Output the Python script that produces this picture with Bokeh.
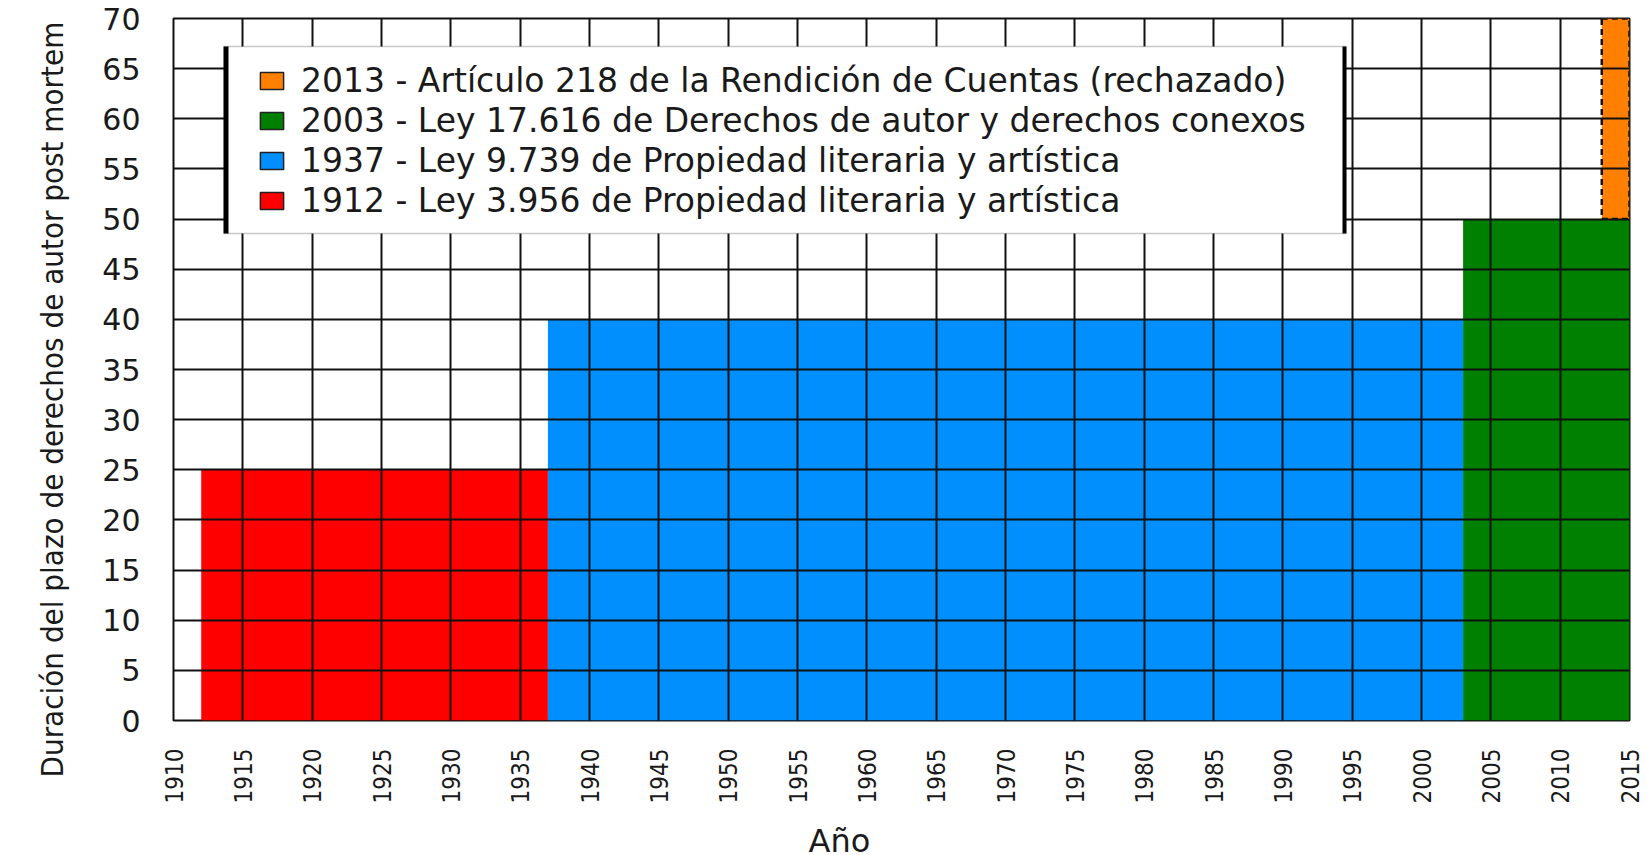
from math import pi
from bokeh.plotting import figure
from bokeh.models import FixedTicker, Legend, LegendItem, BoxAnnotation, Title
from bokeh.embed import file_html
from bokeh.resources import INLINE

x_start, x_end = 1910, 2015
y_start, y_end = 0, 70
x_ticks = list(range(1910, 2016, 5))
y_ticks = list(range(0, 71, 5))

x_title = "Año"
y_title = "Duración del plazo de derechos de autor post mortem"
laws = ["1912 - Ley 3.956 de Propiedad literaria y artística",
        "1937 - Ley 9.739 de Propiedad literaria y artística",
        "2003 - Ley 17.616 de Derechos de autor y derechos conexos",
        "2013 - Artículo 218 de la Rendición de Cuentas (rechazado)"]
starts = [1912, 1937, 2003, 2013]
ends = [1937, 2003, 2015, 2015]
bottoms = [0, 0, 0, 50]
terms = [25, 40, 50, 70]
colors = ["#ff0000", "#008ffd", "#008000", "#ff8000"]

INK = "#111111"
FONT = "DejaVu Sans"
NARROW = "DejaVu Sans Condensed"
FRAME_LEFT, FRAME_BOTTOM = 173, 720

p = figure(width=1647, height=855, frame_width=1456, frame_height=702,
           x_range=(x_start, x_end), y_range=(y_start, y_end),
           output_backend="svg", toolbar_location=None,
           min_border_left=173, min_border_top=18, min_border_right=18, min_border_bottom=135,
           background_fill_color="white", border_fill_color="white",
           outline_line_color=INK, outline_line_width=2)

for i in [3, 2, 1, 0]:
    if i == 3:
        p.quad(left=[starts[i]], right=[ends[i]], bottom=[bottoms[i]], top=[terms[i]],
               fill_color=colors[i], line_color=INK, line_dash="6 4", line_width=2.5)
    else:
        p.quad(left=[starts[i]], right=[ends[i]], bottom=[bottoms[i]], top=[terms[i]],
               fill_color=colors[i], line_color=None)

items = []
for i in [3, 2, 1, 0]:
    proxy = p.quad(left=[float("nan")], right=[float("nan")], bottom=[float("nan")], top=[float("nan")],
                   fill_color=colors[i], line_color="#222222", line_width=1.5)
    items.append(LegendItem(label=laws[i], renderers=[proxy]))

for ax in (p.xaxis[0], p.yaxis[0]):
    ax.major_tick_line_color = None
    ax.minor_tick_line_color = None
    ax.axis_line_color = None
    ax.major_label_text_color = "#1a1a1a"

p.xaxis[0].ticker = FixedTicker(ticks=x_ticks)
p.yaxis[0].ticker = FixedTicker(ticks=y_ticks)
p.xaxis[0].major_label_orientation = pi / 2
p.xaxis[0].major_label_text_font = NARROW
p.yaxis[0].major_label_text_font = FONT
p.xaxis[0].major_label_text_font_size = "24px"
p.yaxis[0].major_label_text_font_size = "30px"
p.xaxis[0].major_label_standoff = 22
p.yaxis[0].major_label_standoff = 27

for g in (p.xgrid[0], p.ygrid[0]):
    g.grid_line_color = INK
    g.grid_line_width = 2
    g.level = "overlay"
p.xgrid[0].ticker = FixedTicker(ticks=x_ticks)
p.ygrid[0].ticker = FixedTicker(ticks=y_ticks)


def screen_box(left, right, top, bottom, fill, line=None, level="overlay"):
    # page pixels -> pixels from the frame's lower-left corner
    b = BoxAnnotation(left=left - FRAME_LEFT, right=right - FRAME_LEFT,
                      top=FRAME_BOTTOM - top, bottom=FRAME_BOTTOM - bottom,
                      left_units="screen", right_units="screen", top_units="screen", bottom_units="screen",
                      fill_color=fill, fill_alpha=1.0, line_color=line, line_width=1.5, level=level, editable=False)
    p.add_layout(b)


screen_box(224, 1345, 46, 233, "white", "#444444")
screen_box(223, 228, 46, 233, "black")
screen_box(1342, 1346, 46, 233, "black")

legend = Legend(items=items, location=(84, 500), level="overlay",
                label_text_font=FONT, label_text_font_size="33px", label_text_color="#1a1a1a",
                glyph_width=29, glyph_height=21, label_standoff=15, spacing=1, label_height=38,
                padding=0, margin=0, border_line_color=None, background_fill_alpha=0.0)
p.add_layout(legend, "center")

p.add_layout(Title(text=y_title, align="left", offset=-57, standoff=60,
                   text_font=NARROW, text_font_size="31px", text_font_style="normal",
                   text_color="#1a1a1a"), "left")
p.add_layout(Title(text=x_title, align="left", offset=635, standoff=26,
                   text_font=FONT, text_font_size="32px", text_font_style="normal",
                   text_color="#1a1a1a"), "below")

open("out.html", "w").write(file_html(p, INLINE))
